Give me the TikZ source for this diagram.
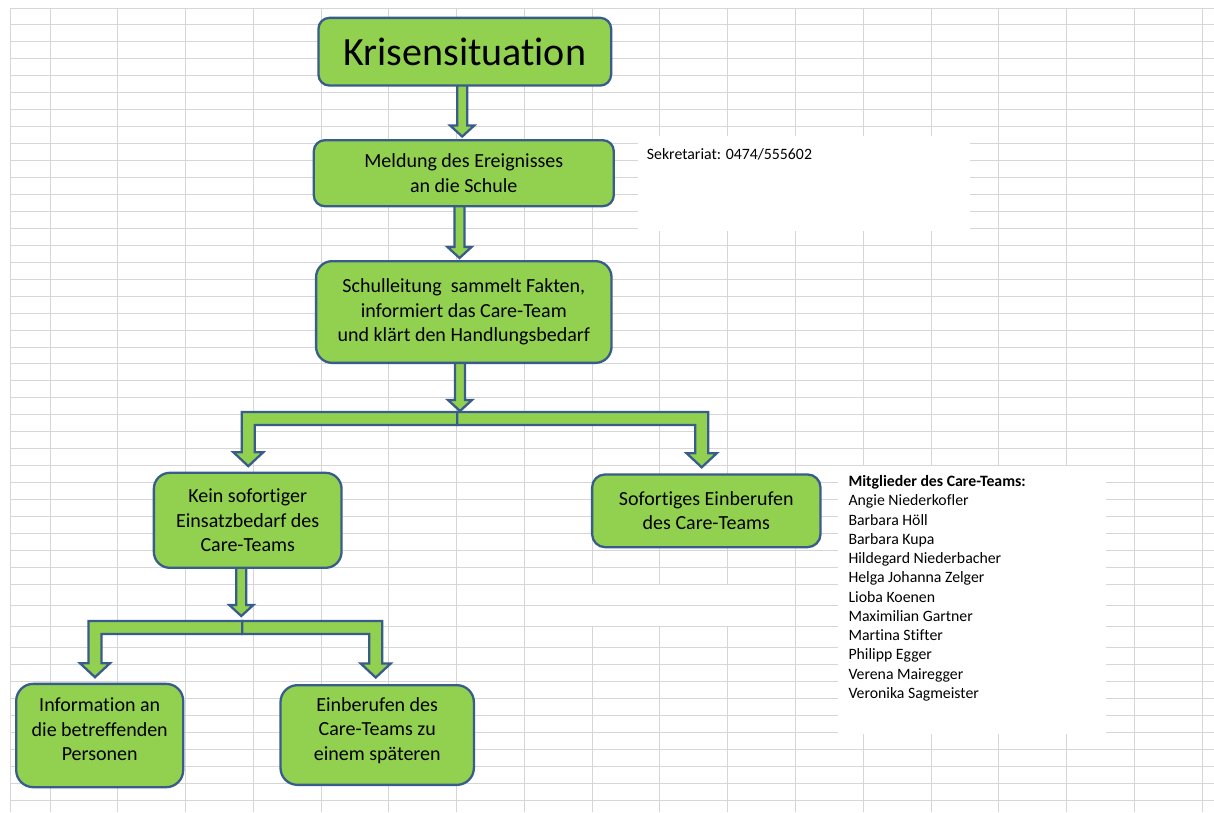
\documentclass[tikz,border=0pt]{standalone}
\usepackage{fontspec}
\setmainfont{Carlito}[Ligatures={NoCommon}]
\usetikzlibrary{calc}
\definecolor{gridc}{RGB}{214,214,214}
\definecolor{boxfill}{HTML}{92D050}
\definecolor{boxline}{HTML}{385D8A}
\pgfdeclarelayer{gridlayer}
\pgfdeclarelayer{arrowlayer}
\pgfsetlayers{gridlayer,arrowlayer,main}
\tikzset{
  box/.style={draw=boxline, fill=boxfill, line width=2.3pt, inner sep=0pt, align=center,
    font=\fontsize{20}{24.5}\selectfont, text=black},
  blockarrow/.style={draw=boxline, fill=boxfill, line width=2.3pt, line join=miter},
  gridline/.style={draw=gridc, line width=1pt},
  note/.style={inner sep=0pt, anchor=base west, align=left, font=\fontsize{15.8}{19.25}\selectfont},
}
% straight block arrow: #1 top centre of shaft, #2 tip
\newcommand{\downblock}[2]{%
  \draw[blockarrow] let \p1=(#1), \p2=(#2) in
    ({\x1-5pt},\y1) -- ({\x1+5pt},\y1) -- ({\x1+5pt},{\y2+11pt}) -- ({\x1+12pt},{\y2+11pt})
    -- (\x1,\y2) -- ({\x1-12pt},{\y2+11pt}) -- ({\x1-5pt},{\y2+11pt}) -- cycle;}
% bent block arrow: #1 junction (top of bar), #2 tip, #3 side (-1 left, 1 right)
\newcommand{\bentblock}[3]{%
  \draw[blockarrow] let \p1=(#1), \p2=(#2) in
    (\x1,\y1) -- ({\x2+(#3)*6.5pt},\y1) -- ({\x2+(#3)*6.5pt},{\y2+14pt})
    -- ({\x2+(#3)*15pt},{\y2+14pt}) -- (\x2,\y2) -- ({\x2-(#3)*15pt},{\y2+14pt})
    -- ({\x2-(#3)*6.5pt},{\y2+14pt}) -- ({\x2-(#3)*6.5pt},{\y1-13pt}) -- (\x1,{\y1-13pt}) -- cycle;}
\begin{document}
\begin{tikzpicture}[x=1pt,y=-1pt]
\useasboundingbox (0,0) rectangle (1214,812);
\begin{pgfonlayer}{gridlayer}
  \fill[white] (0,0) rectangle (1214,812);
  % vertical grid lines
  \draw[gridline] (10,8) -- (10,812);
  \foreach \k in {0,...,17} \draw[gridline] ({50+67.77*\k},8) -- ({50+67.77*\k},812);
  % horizontal grid lines
  \foreach \k in {0,...,34} \draw[gridline] (10,{8+16.95*\k}) -- (1214,{8+16.95*\k});
  \draw[gridline] (10,605.3) -- (1214,605.3);
  \draw[gridline] (10,626.3) -- (1214,626.3);
  \foreach \k in {0,...,9} \draw[gridline] (10,{647.3+17*\k}) -- (1214,{647.3+17*\k});
  % covered / merged areas
  \fill[white] (638,135.7) rectangle (970,231);
  \fill[white] (838,466.3) rectangle (1106,734);
  \fill[white] (525.5,585) rectangle (794.5,625.8);
  \draw[gridline] (524.4,605.3) -- (795.5,605.3);
\end{pgfonlayer}

% boxes
\node[box, minimum width=292.7, minimum height=67.7, rounded corners=11,
      font=\fontsize{40}{48}\selectfont] (kris) at (464.8,51.7) {Krisensituation};
\node[box, minimum width=300, minimum height=66, rounded corners=11] (meld) at (463.8,173.2)
      {Meldung des Ereignisses\\an die Schule};
\node[box, minimum width=295.4, minimum height=101.7, rounded corners=16] (schul) at (463.8,312)
      {Schulleitung~ sammelt Fakten,\\informiert das Care-Team\\und klärt den Handlungsbedarf};
\node[box, minimum width=187.7, minimum height=95, rounded corners=16] (kein) at (247.7,520.3)
      {Kein sofortiger\\Einsatzbedarf des\\Care-Teams};
\node[box, minimum width=228.4, minimum height=72.7, rounded corners=13] (sof) at (706.3,510.8)
      {Sofortiges Einberufen\\des Care-Teams};
\node[box, minimum width=167, minimum height=103.3, rounded corners=17] (info) at (99.7,735.5)
      {Information an\\die betreffenden\\Personen\rule[-12pt]{0pt}{12pt}};
\node[box, minimum width=193.4, minimum height=99.7, rounded corners=17] (einb) at (377.2,735)
      {Einberufen des\\Care-Teams zu\\einem späteren\rule[-12pt]{0pt}{12pt}};

% side notes (base anchor = baseline of the last line)
\node[note] (sek) at (646.7,159.3) {Sekretariat: 0474/555602};
\node[note] (mitgl) at (848.3,698.3) {\textbf{Mitglieder des Care-Teams:}\\Angie Niederkofler\\Barbara Höll\\Barbara Kupa\\Hildegard Niederbacher\\Helga Johanna Zelger\\Lioba Koenen\\Maximilian Gartner\\Martina Stifter\\Philipp Egger\\Verena Mairegger\\Veronika Sagmeister};

% junctions
\coordinate (j1) at (457.3,412);
\coordinate (t3) at (460,411);
\coordinate (j2) at (242.3,621);
\coordinate (t4) at (241.3,616);

\begin{pgfonlayer}{arrowlayer}
  \downblock{$(kris.south)+(-2.6,-2)$}{$(meld.north)+(-1.6,-2.5)$}
  \downblock{$(meld.south)+(-4.3,-2)$}{$(schul.north)+(-4.3,-2)$}
  \bentblock{j1}{$(kein.north)+(0.6,-5.5)$}{-1}
  \bentblock{j1}{$(sof.north)+(-4.6,-6)$}{1}
  \downblock{$(schul.south)+(-3.8,-2)$}{t3}
  \bentblock{j2}{$(info.north)+(-4.7,-5.5)$}{-1}
  \bentblock{j2}{$(einb.north)+(-1.5,-6.5)$}{1}
  \downblock{$(kein.south)+(-6.4,-2)$}{t4}
\end{pgfonlayer}
\end{tikzpicture}
\end{document}
